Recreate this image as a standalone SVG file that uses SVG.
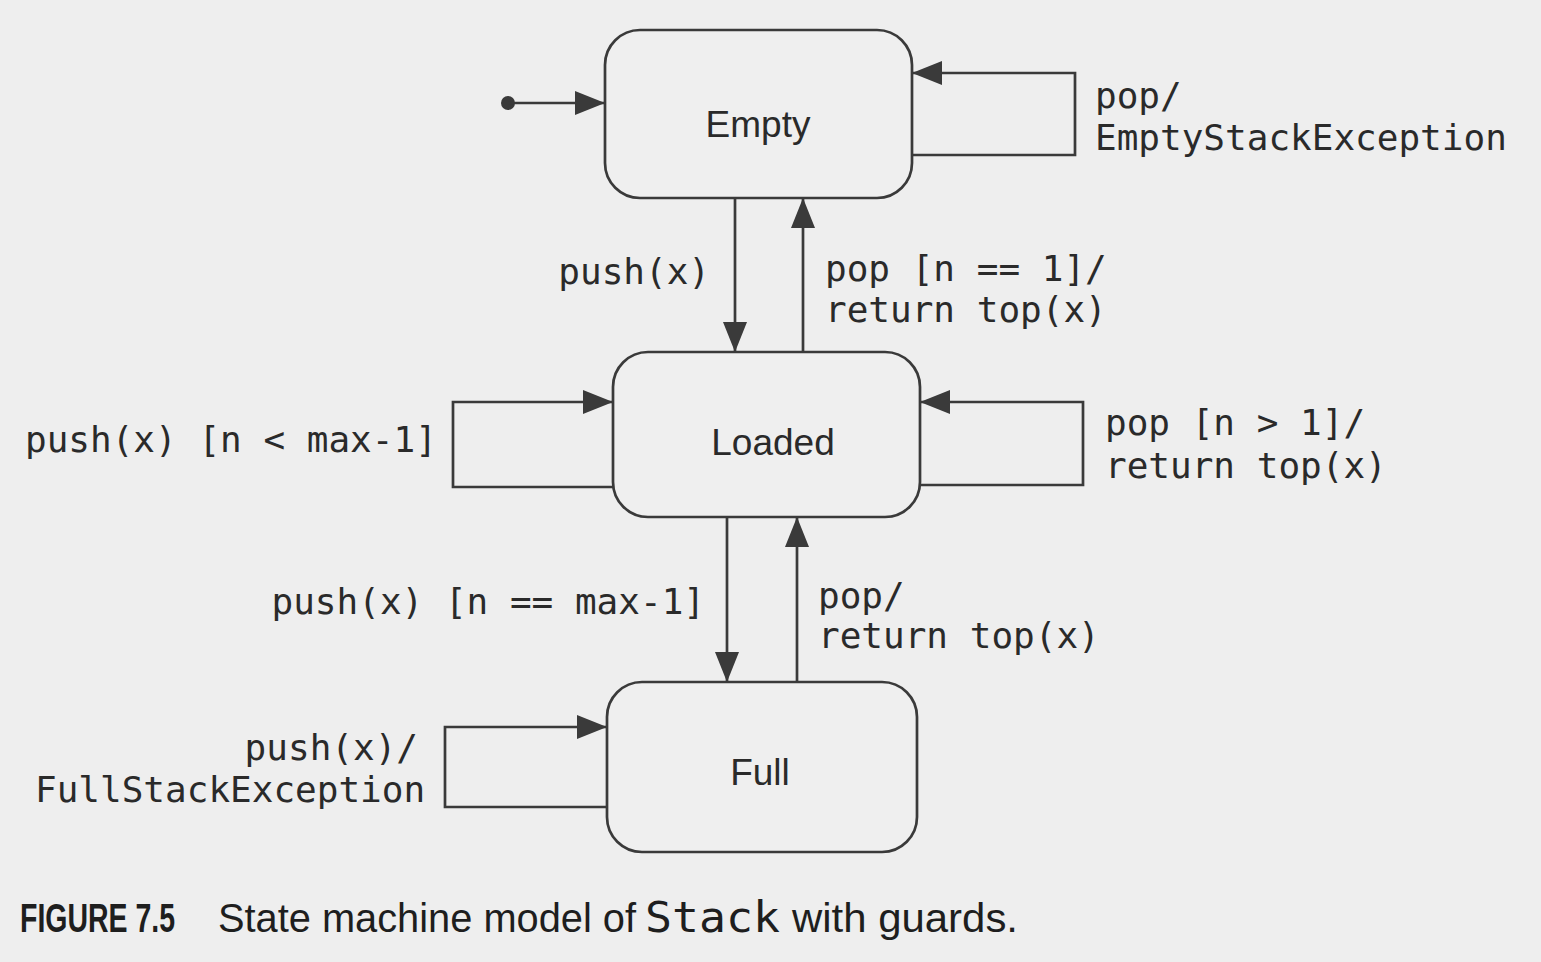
<svg xmlns="http://www.w3.org/2000/svg" width="1541" height="962" viewBox="0 0 1541 962">
<style>
.state{fill:#efefef;stroke:#3a3a3a;stroke-width:2.7}
.conn{fill:none;stroke:#3a3a3a;stroke-width:2.7;marker-end:url(#arr)}
.name{font-family:"Liberation Sans",Arial,sans-serif;font-size:37px;fill:#2a2a2a;text-anchor:middle}
.lbl{font-family:"DejaVu Sans Mono","Liberation Mono",monospace;font-size:36px;fill:#2a2a2a}
.cap{font-family:"Liberation Sans",Arial,sans-serif;font-size:40px;fill:#1e1e1e}
.capmono{font-family:"DejaVu Sans Mono","Liberation Mono",monospace;font-size:42px;fill:#1e1e1e}
</style>
<defs>
<marker id="arr" markerUnits="userSpaceOnUse" markerWidth="32" markerHeight="26" refX="30" refY="12" orient="auto">
<path d="M0,0 L30,12 L0,24 Z" fill="#3a3a3a"/>
</marker>
</defs>
<rect width="1541" height="962" fill="#eeeeee"/>
<g id="connectors">
<circle cx="508" cy="103" r="7" fill="#3a3a3a"/>
<path class="conn" d="M508,103 H605"/>
<path class="conn" d="M912,155 H1075 V73 H912"/>
<path class="conn" d="M735,198 V352"/>
<path class="conn" d="M803,352 V198"/>
<path class="conn" d="M613,487 H453 V402 H613"/>
<path class="conn" d="M920,485 H1083 V402 H920"/>
<path class="conn" d="M727,517 V682"/>
<path class="conn" d="M797,682 V517"/>
<path class="conn" d="M607,807 H445 V727 H607"/>
</g>
<g id="empty">
<rect class="state" x="605" y="30" width="307" height="168" rx="35"/>
<text class="name" x="758" y="137">Empty</text>
</g>
<g id="loaded">
<rect class="state" x="613" y="352" width="307" height="165" rx="35"/>
<text class="name" x="773" y="455">Loaded</text>
</g>
<g id="full">
<rect class="state" x="607" y="682" width="310" height="170" rx="35"/>
<text class="name" x="760" y="785">Full</text>
</g>
<g id="labels">
<text class="lbl" x="1095" y="108">pop/</text>
<text class="lbl" x="1095" y="150">EmptyStackException</text>
<text class="lbl" x="710" y="284" text-anchor="end">push(x)</text>
<text class="lbl" x="825" y="281">pop [n == 1]/</text>
<text class="lbl" x="825" y="322">return top(x)</text>
<text class="lbl" x="25" y="452">push(x) [n &lt; max-1]</text>
<text class="lbl" x="1105" y="435">pop [n &gt; 1]/</text>
<text class="lbl" x="1105" y="478">return top(x)</text>
<text class="lbl" x="705" y="614" text-anchor="end">push(x) [n == max-1]</text>
<text class="lbl" x="818" y="608">pop/</text>
<text class="lbl" x="818" y="648">return top(x)</text>
<text class="lbl" x="418" y="760" text-anchor="end">push(x)/</text>
<text class="lbl" x="35" y="802">FullStackException</text>
</g>
<g id="caption">
<text class="cap" x="20" y="932" textLength="155" lengthAdjust="spacingAndGlyphs" font-weight="bold">FIGURE 7.5</text>
<text class="cap" x="218" y="932" textLength="418" lengthAdjust="spacingAndGlyphs">State machine model of</text>
<text class="capmono" x="645" y="932" textLength="135" lengthAdjust="spacingAndGlyphs">Stack</text>
<text class="cap" x="792" y="932" textLength="226" lengthAdjust="spacingAndGlyphs">with guards.</text>
</g>
</svg>
